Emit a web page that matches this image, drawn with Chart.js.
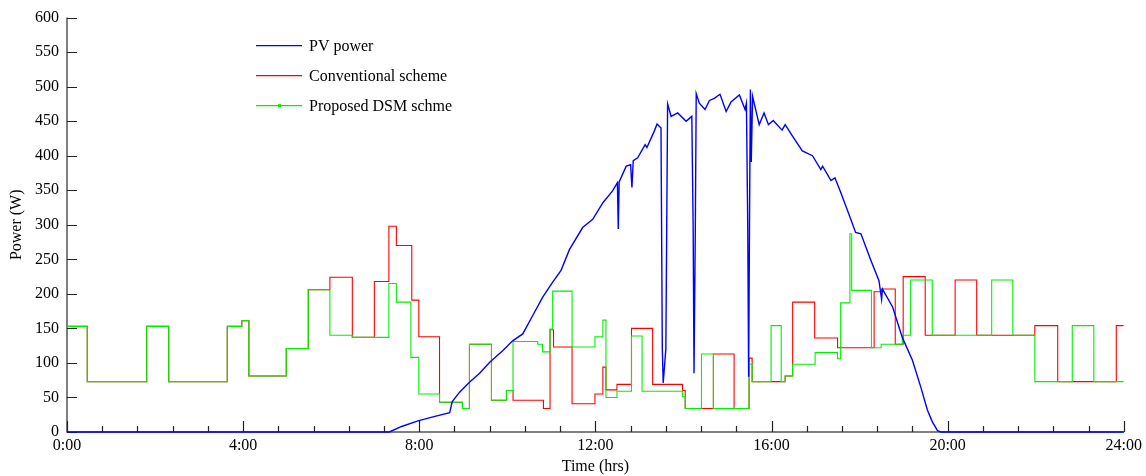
<!DOCTYPE html>
<html><head><meta charset="utf-8">
<script src="https://cdn.jsdelivr.net/npm/chart.js@4.4.0/dist/chart.umd.min.js"></script>
<style>html,body{margin:0;padding:0;background:#fff;}</style>
</head><body>
<canvas id="c" width="1146" height="476"></canvas>
<script>
// ---- Data (hours, watts) ----
const xTickLabels = ['0:00','4:00','8:00','12:00','16:00','20:00','24:00'];
const yTickValues = [0,50,100,150,200,250,300,350,400,450,500,550,600];

const pvTimes = [0,7.32,7.6,7.97,8.31,8.69,8.75,8.92,9.14,9.37,9.6,9.9,10.12,10.35,10.58,10.80,11.03,11.22,11.41,11.71,11.94,12.17,12.39,12.50,12.52,12.54,12.70,12.80,12.83,12.86,12.96,13.13,13.17,13.34,13.40,13.49,13.52,13.54,13.60,13.64,13.72,13.87,14.06,14.19,14.22,14.24,14.27,14.29,14.36,14.49,14.59,14.70,14.83,14.97,15.08,15.27,15.40,15.43,15.46,15.48,15.50,15.52,15.54,15.57,15.72,15.83,15.93,16.04,16.24,16.31,16.48,16.70,16.93,17.12,17.16,17.35,17.44,17.57,17.76,17.91,18.03,18.26,18.44,18.50,18.52,18.75,18.97,19.2,19.39,19.54,19.65,19.77,19.85,24];
const pvValues = [0,0,8,16,22,28,44,58,72,85,101,118,132,142,169,195,217,234,264,296,308,332,349,361,294,362,385,387,354,393,397,416,412,436,446,440,120,71,120,475,457,462,450,457,300,85,300,490,476,467,480,483,489,464,478,488,467,476,300,80,300,496,391,486,445,462,445,451,437,445,428,407,400,380,385,364,368,347,315,289,287,248,219,192,207,181,137,104,65,32,15,2,0,0];

const convTimes = [0,0.46,1.81,2.31,3.64,3.97,4.13,4.98,5.48,5.97,6.48,6.98,7.31,7.48,7.83,7.99,8.46,8.98,9.14,9.64,9.98,10.13,10.82,10.97,11.05,11.47,11.99,12.17,12.24,12.49,12.82,13.30,13.98,14.04,14.68,15.15,15.49,15.56,16.31,16.48,16.98,17.50,18.33,18.50,18.81,18.99,19.49,20.17,20.66,21.98,22.50,23.83,24];
const convValues = [153,73,153,73,153,161,81,121,206,224,137,218,298,270,191,138,43,34,127,46,60,46,34,148,123,41,55,94,61,69,150,69,60,34,113,34,107,73,81,188,136,122,203,207,127,225,140,220,140,154,73,154,154];

const dsmTimes = [0,0.46,1.81,2.31,3.64,3.97,4.13,4.98,5.48,5.97,6.48,7.31,7.48,7.81,7.99,8.46,8.98,9.14,9.64,9.98,10.13,10.69,10.80,10.97,11.03,11.47,11.99,12.17,12.24,12.49,12.82,13.06,13.98,14.04,14.41,14.68,15.49,15.56,15.99,16.22,16.31,16.48,16.99,17.50,17.57,17.78,17.82,18.27,18.49,18.97,19.16,19.65,21.00,21.48,21.98,22.83,23.32,24];
const dsmValues = [153,73,153,73,153,161,81,121,206,140,137,215,188,108,55,43,34,127,46,60,131,127,116,149,204,123,138,162,50,59,139,59,51,34,113,34,98,73,154,73,81,98,115,106,187,287,205,122,127,140,220,140,220,140,73,154,73,73];

const seriesNames = ['PV power','Conventional scheme','Proposed DSM schme'];
const seriesColors = ['#0000ff','#ff0000','#00f000'];

const toPts = (t, v) => t.map((x, i) => ({x: x, y: v[i]}));
const FONT = 'Liberation Serif, Times New Roman, serif';

const axesPlugin = {
  id: 'axesPlugin',
  beforeDatasetsDraw(chart) {
    const {ctx, chartArea: a, scales: {x, y}} = chart;
    ctx.save();
    ctx.strokeStyle = '#555';
    ctx.lineWidth = 1.5;
    ctx.beginPath();
    ctx.moveTo(a.left, a.top); ctx.lineTo(a.left, a.bottom); ctx.lineTo(a.right, a.bottom);
    ctx.stroke();
    ctx.lineWidth = 1.2;
    ctx.strokeStyle = '#222';
    ctx.beginPath();
    yTickValues.forEach(v => {
      const py = Math.round(y.getPixelForValue(v)) + 0.5;
      ctx.moveTo(a.left, py); ctx.lineTo(a.left + 10, py);
    });
    for (let k = 0; k <= 30; k++) {
      const h = k * 0.8;
      const px = Math.round(x.getPixelForValue(h)) + 0.5;
      const len = (k % 5 === 0) ? 11 : 6;
      ctx.moveTo(px, a.bottom); ctx.lineTo(px, a.bottom - len);
    }
    ctx.stroke();
    ctx.restore();
  },
  afterDraw(chart) {
    const {ctx, chartArea: a} = chart;
    ctx.save();
    ctx.font = '16px ' + FONT;
    ctx.textBaseline = 'middle';
    ctx.fillStyle = '#000';
    seriesNames.forEach((n, i) => {
      const yy = a.top + 28 + 30 * i;
      ctx.strokeStyle = seriesColors[i];
      ctx.lineWidth = 1.2;
      ctx.beginPath(); ctx.moveTo(256, yy); ctx.lineTo(302, yy); ctx.stroke();
      if (i === 2) { ctx.fillStyle = seriesColors[i]; ctx.fillRect(278, yy - 1.5, 3, 3); ctx.fillStyle = '#000'; }
      ctx.fillText(n, 309, yy + 1);
    });
    ctx.restore();
  }
};

new Chart(document.getElementById('c'), {
  type: 'line',
  data: {
    datasets: [
      {label: seriesNames[1], data: toPts(convTimes, convValues), borderColor: seriesColors[1], borderWidth: 1.1, stepped: true, pointRadius: 0, order: 3},
      {label: seriesNames[2], data: toPts(dsmTimes, dsmValues), borderColor: seriesColors[2], borderWidth: 1.1, stepped: true, pointRadius: 0, order: 2},
      {label: seriesNames[0], data: toPts(pvTimes, pvValues), borderColor: seriesColors[0], borderWidth: 1.4, pointRadius: 0, tension: 0, order: 1, clip: 4}
    ]
  },
  options: {
    responsive: false,
    animation: false,
    devicePixelRatio: 1,
    layout: {padding: {top: 16, right: 21, left: 0, bottom: 0}},
    plugins: {legend: {display: false}, tooltip: {enabled: false}},
    scales: {
      x: {
        type: 'linear', min: 0, max: 24,
        afterBuildTicks: s => { s.ticks = xTickLabels.map((l, i) => ({value: i * 4})); },
        afterFit: s => { s.height = 44; },
        ticks: {callback: (v, i) => xTickLabels[i], font: {family: FONT, size: 16}, color: '#000', padding: 4, maxRotation: 0, autoSkip: false},
        grid: {display: false, drawTicks: false},
        border: {display: false},
        title: {display: true, text: 'Time (hrs)', font: {family: FONT, size: 16}, color: '#000', padding: {top: 0, bottom: 0}}
      },
      y: {
        min: 0, max: 600,
        afterBuildTicks: s => { s.ticks = yTickValues.map(v => ({value: v})); },
        afterFit: s => { s.width = 67; },
        ticks: {font: {family: FONT, size: 16}, color: '#000', padding: 8, autoSkip: false},
        grid: {display: false, drawTicks: false},
        border: {display: false},
        title: {display: true, text: 'Power (W)', font: {family: FONT, size: 16}, color: '#000', padding: {top: 7, bottom: 0}}
      }
    }
  },
  plugins: [axesPlugin]
});
</script>
</body></html>
